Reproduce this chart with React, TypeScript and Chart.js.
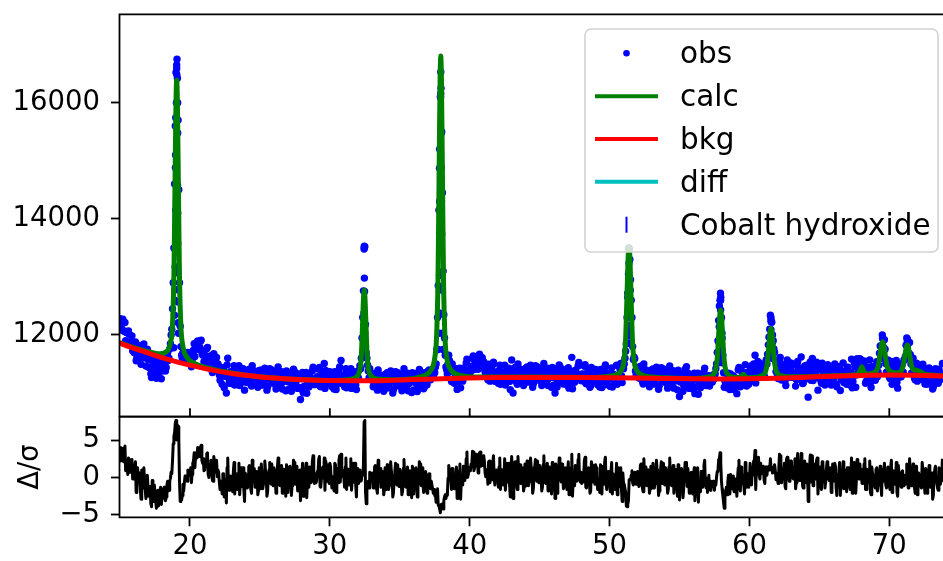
import React, { useEffect, useRef } from "react";
import { Chart, registerables } from "chart.js";
Chart.register(...registerables);

const FONT_FAMILY = "DejaVu Sans";
const FS = 27.5;
const LEGEND_FS = 29.5;

// x grids of the observed pattern (2-theta, degrees): two interleaved rows
const X_START = 15.0;
const X_START_B = 15.05;
const X_STEP = 0.1;
const X_MIN = 14.96;
const X_MAX = 73.84;
const Y_MIN = 10593;
const Y_MAX = 17522;
const D_MIN = -5.31;
const D_MAX = 8.11;

const xTicks = [20, 30, 40, 50, 60, 70];
const yTicks = [12000, 14000, 16000];
const dTicks = [-5, 0, 5];
const legendLabels = ["obs", "calc", "bkg", "diff", "Cobalt hydroxide"];

// observed counts at x = 15.0, 15.1, ... (one row per degree)
const obsCounts = [
  12280, 12090, 12270, 12070, 11900, 12040, 12070, 11850, 11890, 11730,
  11700, 11881, 11612, 11743, 11784, 11495, 11706, 11847, 11608, 11650,
  11580, 11441, 11332, 11663, 11364, 11485, 11256, 11507, 11408, 11540,
  11380, 11520, 11470, 11440, 11690, 11600, 11850, 12100, 12900, 14600,
  16520, 16420, 14500, 12150, 11650, 11700, 11640, 11620, 11560, 11660,
  11576, 11453, 11716, 11848, 11792, 11753, 11867, 11788, 11911, 11656,
  11540, 11647, 11764, 11461, 11538, 11645, 11352, 11679, 11456, 11613,
  11500, 11310, 11330, 11150, 11400, 11290, 11000, 11600, 11170, 11370,
  11270, 11380, 11140, 11350, 11190, 11470, 11250, 11220, 11420, 11050,
  11330, 11180, 11400, 11250, 11120, 11310, 11380, 11200, 11280, 11150,
  11210, 11400, 11140, 11280, 11330, 11050, 11270, 11420, 11190, 11240,
  11340, 11210, 11110, 11450, 11160, 11290, 11070, 11330, 11240, 11380,
  11060, 11290, 11240, 11130, 11410, 11170, 11340, 11080, 11280, 10890,
  11245, 11005, 11295, 11355, 11175, 11105, 11275, 11205, 11445, 11145,
  11160, 11280, 11410, 11120, 11210, 11330, 11510, 11390, 11180, 11350,
  11370, 11190, 11230, 11070, 11350, 11280, 11160, 11450, 11560, 11300,
  11220, 11330, 11090, 11300, 11140, 11420, 11200, 11170, 11370, 11060,
  11280, 11400, 11420, 11950, 12760, 13520, 11690, 11480, 11260, 11350,
  11260, 11110, 11330, 11180, 11050, 11240, 11310, 11130, 11210, 11080,
  11160, 11350, 11090, 11230, 11280, 11000, 11220, 11370, 11140, 11190,
  11310, 11180, 11080, 11420, 11130, 11260, 11040, 11300, 11210, 11350,
  11055, 11285, 11235, 11125, 11405, 11165, 11335, 11075, 11330, 11300,
  11260, 11400, 11230, 11380, 11280, 11350, 11500, 12300, 14150, 16100,
  15500, 13100, 11950, 11450, 11330, 11650, 11520, 11200, 11390, 11170,
  11290, 11063, 11356, 11429, 11262, 11205, 11389, 11332, 11585, 11298,
  11336, 11462, 11596, 11404, 11516, 11632, 11408, 11670, 11492, 11608,
  11538, 11364, 11388, 11230, 11470, 11397, 11280, 11530, 11204, 11365,
  11280, 11390, 11150, 11360, 11200, 11480, 11260, 11230, 11430, 11060,
  11570, 11000, 11430, 11280, 11150, 11340, 11410, 11230, 11310, 11180,
  11260, 11450, 11190, 11330, 11380, 11100, 11320, 11470, 11240, 11290,
  11400, 11270, 11170, 11510, 11220, 11350, 11130, 11390, 11300, 11440,
  11135, 11000, 11315, 11205, 11485, 11245, 11415, 11155, 11355, 11275,
  11325, 11085, 11375, 11615, 11255, 11185, 11355, 11285, 11525, 11225,
  11210, 11330, 11460, 11170, 11260, 11380, 11100, 11440, 11230, 11400,
  11405, 11225, 11265, 11105, 11385, 11315, 11195, 11485, 11145, 11335,
  11240, 11340, 11105, 11320, 11175, 11480, 11280, 11280, 11510, 11180,
  11420, 11600, 11850, 12650, 13480, 12950, 12300, 11580, 11590, 11310,
  11440, 11260, 11460, 11295, 11155, 11337, 11400, 11215, 11290, 11156,
  11225, 11415, 11155, 11295, 11345, 11065, 11285, 11435, 11205, 11255,
  11355, 11225, 11125, 11465, 11175, 11305, 11085, 11345, 11255, 11395,
  10940, 11290, 11240, 11130, 11410, 11455, 11340, 11080, 11280, 11200,
  11230, 10990, 11280, 11340, 11160, 11090, 11260, 11190, 11430, 11130,
  11150, 11300, 11190, 11250, 11310, 11280, 11420, 11700, 12250, 12600,
  12300, 11650, 11100, 11160, 11090, 11340, 11060, 11285, 11160, 11060,
  11240, 10990, 11400, 11130, 11430, 11280, 11200, 11490, 11120, 11310,
  11230, 11465, 11350, 11500, 11650, 11410, 11545, 11310, 11500, 11400,
  11490, 11270, 11570, 11670, 11960, 12340, 12220, 11900, 11700, 11370,
  11320, 11455, 11615, 11225, 11335, 11490, 11130, 11570, 11285, 11520,
  11515, 11270, 11325, 11120, 11495, 11400, 11240, 11620, 11165, 11420,
  11330, 11480, 10930, 11445, 11220, 11595, 11310, 11265, 11530, 11050,
  11430, 11215, 11515, 11310, 11140, 11395, 11490, 11250, 11365, 11185,
  11245, 11500, 11150, 11340, 11405, 11045, 11330, 11520, 11215, 11290,
  11440, 11265, 11140, 11585, 11200, 11520, 11100, 11590, 11360, 11590,
  11570, 11335, 11545, 11170, 11450, 11255, 11570, 11095, 11400, 11310,
  11220, 11540, 11360, 11685, 11680, 12000, 11775, 11755, 11360, 11570,
  11275, 11520, 11150, 11450, 11255, 11560, 11085, 11400, 11280, 11485,
  11360, 11575, 11825, 11925, 11645, 11665, 11345, 11600, 11260, 11490,
  11205, 11423, 11360, 11232, 11497, 11250, 11415, 11150, 11345, 11262,
  11310, 11070, 11360, 11420, 11240, 11170, 11340, 11270, 11510,
];

// observed counts at x = 15.05, 15.15, ... (one row per degree)
const obsCountsB = [
  12112, 12192, 12067, 12214, 12041, 11868, 12012, 11876, 11985, 11766,
  11806, 11557, 11828, 11699, 11610, 11821, 11632, 11733, 11464, 11756,
  11446, 11587, 11268, 11489, 11600, 11361, 11432, 11293, 11484, 11246,
  11430, 11560, 11380, 11620, 11560, 11760, 12000, 12450, 13500, 15600,
  16650, 15700, 12900, 11800, 11600, 11540, 11700, 11580, 11700, 11640,
  11676, 11560, 11740, 11631, 11811, 11898, 11768, 11891, 11700, 11711,
  11553, 11610, 11787, 11444, 11631, 11518, 11375, 11632, 11529, 11406,
  11465, 11220, 11300, 11435, 11090, 11335, 11485, 11265, 11345, 11300,
  11160, 11470, 11350, 11240, 11280, 11130, 11420, 11330, 11190, 11360,
  11290, 11200, 11410, 11160, 11470, 11250, 11180, 11350, 11100, 11390,
  11140, 11290, 11190, 11430, 11270, 11110, 11340, 11220, 11400, 11170,
  11310, 11070, 11350, 11230, 11150, 11370, 11190, 11300, 11040, 11340,
  11190, 11340, 11030, 11260, 11380, 11150, 11230, 11100, 11300, 11070,
  11355, 11115, 11265, 10995, 11195, 11315, 11155, 11385, 11175, 11245,
  11180, 11250, 11440, 11110, 11310, 11210, 11080, 11350, 11260, 11150,
  11340, 11110, 11210, 11370, 11060, 11310, 11400, 11170, 11280, 11230,
  11110, 11420, 11300, 11190, 11230, 11080, 11370, 11280, 11140, 11360,
  11250, 11470, 11600, 12300, 13480, 12180, 11600, 11380, 11420, 11230,
  11220, 11130, 11340, 11090, 11400, 11180, 11110, 11280, 11030, 11320,
  11090, 11240, 11140, 11380, 11220, 11060, 11290, 11170, 11350, 11120,
  11280, 11040, 11320, 11200, 11120, 11340, 11160, 11270, 11010, 11310,
  11185, 11335, 11025, 11255, 11375, 11145, 11225, 11095, 11355, 11145,
  11380, 11260, 11350, 11300, 11380, 11450, 11750, 12850, 15200, 16250,
  14450, 12350, 11650, 11400, 11500, 11560, 11380, 11500, 11230, 11330,
  11420, 11190, 11350, 11090, 11300, 11430, 11280, 11520, 11320, 11400,
  11367, 11453, 11640, 11416, 11606, 11536, 11427, 11633, 11546, 11438,
  11505, 11286, 11364, 11496, 11205, 11418, 11487, 11268, 11355, 11298,
  11170, 11480, 11360, 11250, 11290, 11140, 11430, 11340, 11200, 11370,
  11320, 11230, 11440, 11190, 11500, 11280, 11210, 11380, 11130, 11420,
  11190, 11340, 11240, 11480, 11320, 11160, 11390, 11270, 11450, 11220,
  11370, 11130, 11410, 11290, 11210, 11430, 11250, 11360, 11100, 11400,
  11265, 11415, 11105, 11335, 11455, 11225, 11305, 11175, 11375, 11145,
  11435, 11195, 11345, 11075, 11275, 11395, 11235, 11465, 11255, 11325,
  11230, 11300, 11490, 11160, 11360, 11260, 11130, 11400, 11310, 11200,
  11375, 11145, 11245, 11405, 11095, 11345, 11435, 11205, 11315, 11265,
  11115, 11432, 11318, 11217, 11277, 11150, 11465, 11405, 11300, 11520,
  11500, 11720, 12300, 13050, 13300, 12600, 11800, 11620, 11380, 11420,
  11385, 11270, 11462, 11200, 11500, 11273, 11197, 11362, 11108, 11394,
  11155, 11305, 11205, 11445, 11285, 11125, 11355, 11235, 11415, 11185,
  11325, 11085, 11365, 11245, 11165, 11385, 11205, 11315, 11055, 11355,
  11190, 11340, 11030, 11260, 11380, 11150, 11230, 11100, 11300, 11070,
  11340, 11100, 11250, 10980, 11180, 11300, 11140, 11370, 11180, 11250,
  11200, 11120, 11240, 11190, 11240, 11330, 11500, 11900, 12500, 12650,
  11950, 11350, 11200, 11230, 11250, 11180, 11330, 11120, 11300, 11200,
  11180, 11250, 11440, 11110, 11370, 11270, 11140, 11350, 11260, 11150,
  11435, 11210, 11315, 11480, 11175, 11430, 11525, 11300, 11420, 11380,
  11300, 11520, 11500, 11830, 12100, 12230, 12000, 11760, 11560, 11430,
  11250, 11560, 11440, 11325, 11365, 11210, 11500, 11410, 11270, 11440,
  11365, 11275, 11485, 11235, 11545, 11325, 11255, 11425, 11175, 11465,
  11245, 11395, 11295, 11535, 11375, 11215, 11445, 11325, 11505, 11275,
  11410, 11170, 11450, 11330, 11250, 11470, 11290, 11400, 11140, 11440,
  11270, 11420, 11110, 11340, 11460, 11230, 11310, 11180, 11380, 11150,
  11445, 11205, 11357, 11090, 11310, 11450, 11310, 11560, 11370, 11450,
  11375, 11400, 11550, 11206, 11401, 11301, 11176, 11452, 11372, 11276,
  11470, 11280, 11480, 11810, 11652, 11935, 11920, 11510, 11490, 11380,
  11252, 11545, 11418, 11303, 11340, 11188, 11482, 11405, 11282, 11510,
  11570, 11630, 11950, 11690, 11870, 11500, 11340, 11480, 11228, 11515,
  11252, 11385, 11270, 11490, 11320, 11155, 11380, 11255, 11432, 11200,
  11350, 11110, 11390, 11270, 11190, 11410, 11230, 11340,
];

// extra observed points measured on the steep peak flanks [2theta, counts]
const peakObs = [
  [18.84, 11780], [18.89, 12340], [18.91, 12600], [18.92, 12780], [18.94, 13170], [18.96, 13460],
  [18.99, 13810], [18.98, 14150], [18.96, 14880], [18.97, 15100], [18.98, 15740], [19.03, 16000],
  [19.05, 16590], [19.06, 16480], [19.07, 16750], [19.12, 16000], [19.12, 15480], [19.11, 14580],
  [19.12, 14100], [19.12, 13580], [19.13, 13070], [19.16, 12780], [19.16, 12570], [19.16, 12210],
  [19.18, 12030],
  [32.39, 11740], [32.42, 12120], [32.44, 12380], [32.46, 13500], [32.47, 12980], [32.48, 12750],
  [32.46, 13530], [32.5, 12030], [32.53, 11740],
  [37.75, 11750], [37.8, 12030], [37.83, 12380], [37.84, 13030], [37.85, 13750], [37.85, 14300],
  [37.84, 14870], [37.9, 12780], [37.91, 13030], [37.92, 13750], [37.92, 14300], [37.92, 14870],
  [37.93, 15480], [37.92, 16100], [37.93, 16160], [37.93, 16530], [37.97, 15480], [37.97, 14880],
  [37.98, 14310], [38.0, 13740], [38.0, 13030], [38.02, 12780], [38.05, 12030], [38.1, 11750],
  [51.3, 12720], [51.3, 12380], [51.29, 12090], [51.38, 13500], [51.39, 13240], [51.39, 12950],
  [51.39, 12720], [51.39, 12480], [51.39, 12170], [51.4, 12030], [51.4, 11860], [51.48, 12770],
  [51.48, 12310], [51.49, 11980],
  [57.93, 12720], [57.94, 12600], [57.94, 12430], [57.94, 12260], [57.94, 12090], [57.94, 11910],
  [57.94, 11710], [57.94, 11540], [57.84, 12140], [57.84, 11860], [57.84, 11600], [58.04, 12030],
  [58.04, 11740], [58.04, 11520],
  [61.54, 12300], [61.54, 12260], [61.54, 12090], [61.54, 11910], [61.54, 11740], [61.45, 11970],
  [61.45, 11690], [61.63, 11860], [61.63, 11600],
  [69.52, 11940], [69.52, 11830], [69.52, 11690], [69.44, 11600], [69.61, 11740],
  [71.29, 11880], [71.29, 11800], [71.29, 11660], [71.38, 11690], [71.2, 11600],
];

// calculated pattern [2theta, counts]
const calcCurve = [
  [14.96, 11867], [16, 11782], [17, 11714], [17.85, 11675], [18.35, 11721], [18.6, 11859],
  [18.75, 12188], [18.85, 13007], [18.9, 13975], [18.95, 15040], [19.0, 16007], [19.05, 16392],
  [19.1, 16000], [19.15, 15026], [19.2, 13955], [19.25, 12980], [19.35, 12147], [19.5, 11797],
  [19.75, 11626], [20.25, 11519], [21, 11449], [22, 11390], [23, 11346], [24, 11308], [25, 11281],
  [26, 11260], [27, 11244], [28, 11232], [29, 11224], [30, 11218], [31.26, 11230], [31.76, 11257],
  [32.01, 11307], [32.16, 11416], [32.26, 11682], [32.31, 11994], [32.36, 12338], [32.41, 12650],
  [32.46, 12775], [32.51, 12650], [32.56, 12338], [32.61, 11994], [32.66, 11682], [32.76, 11416],
  [32.91, 11307], [33.16, 11257], [33.66, 11236], [34.5, 11230], [35.5, 11240], [36.2, 11262],
  [36.73, 11298], [37.23, 11396], [37.48, 11576], [37.63, 11967], [37.73, 12913], [37.78, 14024],
  [37.83, 15246], [37.88, 16358], [37.93, 16802], [37.98, 16358], [38.03, 15246], [38.08, 14024],
  [38.13, 12913], [38.23, 11970], [38.38, 11581], [38.63, 11407], [39.13, 11315], [39.8, 11285],
  [41, 11275], [43, 11276], [45, 11275], [47, 11272], [49, 11270], [49.95, 11288], [50.55, 11325],
  [50.85, 11397], [51.03, 11555], [51.15, 11938], [51.21, 12390], [51.27, 12887], [51.33, 13339],
  [51.39, 13520], [51.45, 13339], [51.51, 12887], [51.57, 12390], [51.63, 11938], [51.75, 11554],
  [51.93, 11395], [52.23, 11321], [52.83, 11283], [54, 11262], [55.5, 11252], [56.5, 11257],
  [57.1, 11277], [57.4, 11315], [57.58, 11398], [57.7, 11600], [57.76, 11837], [57.82, 12098],
  [57.88, 12335], [57.94, 12430], [58.0, 12335], [58.06, 12098], [58.12, 11837], [58.18, 11600],
  [58.3, 11398], [58.48, 11315], [58.78, 11277], [59.2, 11262], [59.4, 11282], [59.56, 11325],
  [59.72, 11282], [59.98, 11262], [60.63, 11277], [60.955, 11306], [61.15, 11367], [61.28, 11514],
  [61.345, 11686], [61.41, 11874], [61.475, 12045], [61.54, 12115], [61.605, 12046], [61.67, 11875],
  [61.735, 11688], [61.8, 11516], [61.93, 11370], [62.125, 11312], [62.45, 11290], [63.1, 11280],
  [64.5, 11285], [66, 11296], [67.3, 11310], [67.6, 11318], [67.8, 11340], [67.92, 11392],
  [68.03, 11455], [68.14, 11395], [68.28, 11342], [68.5, 11330], [68.8, 11346], [69.07, 11382],
  [69.22, 11480], [69.295, 11597], [69.37, 11724], [69.445, 11839], [69.52, 11885], [69.595, 11839],
  [69.67, 11725], [69.745, 11598], [69.82, 11482], [69.97, 11395], [70.195, 11360], [70.615, 11348],
  [70.84, 11379], [70.99, 11467], [71.065, 11571], [71.14, 11684], [71.215, 11788], [71.29, 11828],
  [71.365, 11788], [71.44, 11684], [71.515, 11571], [71.59, 11467], [71.74, 11400], [71.965, 11395],
  [72.2, 11370], [72.45, 11332], [73.0, 11310], [73.84, 11296],
];

// background [2theta, counts]
const bkgCurve = [
  [14.96, 11862], [16, 11770], [17, 11690], [18, 11610], [19, 11540], [20, 11480], [21, 11425],
  [22, 11378], [23, 11338], [24, 11305], [25, 11278], [26, 11258], [27, 11242], [28, 11230],
  [29, 11222], [30, 11216], [32, 11212], [34, 11218], [36, 11232], [38, 11248], [40, 11260],
  [42, 11267], [44, 11270], [46, 11270], [48, 11268], [50, 11264], [52, 11258], [54, 11251],
  [56, 11245], [58, 11242], [60, 11246], [62, 11256], [64, 11272], [66, 11290], [68, 11304],
  [70, 11311], [72, 11308], [73.84, 11295],
];

// normalized difference (obs - calc)/sigma on the obsCounts grid
const diffValues = [
  4.0, 2.3, 3.9, 2.3, 0.9, 2.3, 2.6, 0.7, 1.1, -0.2,
  -0.2, 2.1, -1.4, 0.2, 0.6, -2.9, -0.4, 1.3, -1.7, -1.1,
  -1.3, -2.5, -3.5, -0.4, -3.2, -2.0, -4.1, -1.7, -2.6, -1.3,
  -2.8, -1.6, -2.2, -2.6, -0.5, -1.7, -0.1, 0.5, 4.5, 6.0,
  7.6, 7.0, 5.2, -3.2, -3.0, -0.9, -0.6, -0.3, -0.5, 0.8,
  0.3, -0.7, 1.9, 3.3, 2.8, 2.6, 3.7, 3.0, 4.3, 1.9,
  0.9, 2.0, 3.2, 0.4, 1.2, 2.3, -0.4, 2.8, 0.7, 2.3,
  1.0, -0.7, -0.5, -2.2, 0.5, -0.5, -3.4, 2.6, -1.7, 0.2,
  -0.6, 0.8, -2.2, 0.5, -1.6, 1.9, -0.8, -1.2, 1.3, -3.2,
  0.6, -1.4, 1.4, -0.5, -2.1, 0.3, 1.2, -1.1, 0.0, -1.7,
  -0.6, 1.8, -1.5, 0.3, 0.9, -2.5, 0.2, 2.0, -0.9, -0.2,
  1.3, -0.4, -1.6, 2.6, -1.0, 0.6, -2.1, 1.1, 0.0, 1.7,
  -2.0, 0.9, 0.3, -1.1, 2.3, -0.6, 1.5, -1.8, 0.8, -3.1,
  0.5, -2.5, 1.1, 1.9, -0.4, -1.3, 0.9, 0.0, 2.9, -0.8,
  -0.7, 0.8, 2.4, -1.2, -0.1, 1.4, 2.6, 2.2, -0.5, 1.7,
  1.9, -0.4, 0.1, -1.8, 1.7, 0.8, -0.7, 2.9, 3.1, 1.0,
  0.0, 1.4, -1.6, 1.1, -1.0, 2.5, -0.2, -0.6, 1.9, -2.6,
  -0.2, 1.0, -0.5, 0.5, 1.6, 7.6, -3.5, -0.7, -1.4, 0.3,
  0.6, -1.4, 1.4, -0.5, -2.1, 0.3, 1.2, -1.1, 0.0, -1.7,
  -0.7, 1.7, -1.6, 0.2, 0.8, -2.6, 0.1, 1.9, -1.0, -0.3,
  1.1, -0.6, -1.8, 2.4, -1.2, 0.4, -2.3, 0.9, -0.2, 1.5,
  -2.2, 0.7, 0.1, -1.3, 2.1, -0.8, 1.3, -2.0, 0.6, -0.5,
  -0.7, 0.5, -1.5, -0.5, -2.1, -2.4, -3.3, -1.5, -3.8, -4.7,
  -3.6, -4.2, -2.6, -2.8, -2.4, 1.6, 0.9, -1.6, 0.3, -1.5,
  0.1, -2.8, 0.9, 1.8, -0.3, -1.0, 1.2, 0.5, 3.4, 0.4,
  0.9, 1.8, 3.5, 0.9, 1.9, 3.0, 0.6, 3.3, 1.5, 2.8,
  2.9, 0.6, 1.0, -0.9, 2.2, 1.3, -0.3, 2.9, -1.0, 1.0,
  0.0, 1.4, -1.6, 1.1, -1.0, 2.5, -0.2, -0.6, 1.9, -2.6,
  2.8, -2.8, 1.9, 0.0, -1.6, 0.8, 1.7, -0.6, 0.5, -1.2,
  -0.2, 2.2, -1.1, 0.7, 1.3, -2.1, 0.6, 2.4, -0.5, 0.2,
  1.6, -0.1, -1.3, 2.9, -0.7, 0.9, -1.8, 1.4, 0.3, 2.0,
  -1.7, -2.8, 0.6, -0.8, 2.6, -0.3, 1.8, -1.5, 1.1, 0.0,
  0.7, -2.3, 1.3, 3.1, -0.2, -1.1, 1.1, 0.2, 3.1, -0.6,
  -0.8, 0.7, 2.3, -1.3, -0.2, 1.3, -2.1, 2.1, -0.6, 1.6,
  1.7, -0.6, -0.1, -2.0, 1.5, 0.6, -0.9, 2.7, -1.6, 0.8,
  -0.6, 0.8, -2.2, 0.5, -1.6, 1.9, -0.8, -1.2, 1.3, -3.2,
  -0.8, -0.9, -3.8, -3.6, -0.3, -0.3, 0.9, -1.0, 0.7, -0.9,
  0.8, -1.2, 1.6, -0.3, -1.9, 0.5, 1.4, -0.9, 0.2, -1.5,
  -0.5, 1.9, -1.4, 0.4, 1.0, -2.4, 0.3, 2.1, -0.8, -0.1,
  1.3, -0.4, -1.6, 2.6, -1.0, 0.6, -2.1, 1.1, 0.0, 1.7,
  -3.0, 0.6, 0.0, -1.4, 2.0, 2.0, 1.2, -2.1, 0.5, -0.6,
  -0.1, -3.1, 0.5, 1.3, -1.0, -1.9, 0.3, -0.6, 2.3, -1.4,
  -2.0, 0.3, -1.7, -1.0, -0.5, -1.7, -1.0, 0.8, 2.4, 3.3,
  -0.5, -2.4, -4.1, -2.2, -2.3, 0.3, -2.2, 0.0, -1.1, -1.9,
  -0.2, -2.5, 1.3, -1.3, 1.4, -0.4, -1.1, 2.0, -1.3, 0.5,
  -0.3, 1.9, 0.8, 2.2, 3.6, 1.3, 2.5, 0.3, 1.9, 0.9,
  1.5, -0.8, 1.4, 1.2, 1.5, 2.5, 1.4, 0.9, 1.7, -0.3,
  -0.2, 1.3, 2.9, -0.7, 0.4, 1.9, -1.5, 2.7, 0.0, 2.2,
  2.2, -0.1, 0.4, -1.5, 2.0, 1.1, -0.4, 3.2, -1.1, 1.3,
  0.4, 1.8, -3.2, 1.5, -0.6, 2.9, 0.2, -0.2, 2.3, -2.2,
  1.3, -0.7, 2.1, 0.2, -1.4, 1.0, 1.9, -0.4, 0.7, -1.0,
  -0.5, 1.9, -1.4, 0.4, 1.0, -2.4, 0.3, 2.1, -0.8, -0.1,
  1.3, -0.4, -1.6, 2.6, -1.0, 2.0, -2.1, 2.4, 0.0, 1.8,
  1.1, -0.7, 1.8, -1.6, 1.1, -0.7, 2.2, -2.3, 0.5, -0.5,
  -1.4, 1.3, -0.9, 0.7, -0.9, 1.1, -0.5, 0.7, -1.4, 1.4,
  -1.1, 1.4, -2.0, 0.9, -0.9, 2.0, -2.5, 0.4, -0.9, 0.7,
  -1.1, -0.5, 0.4, 0.9, -0.9, 0.7, -1.1, 1.8, -1.3, 0.9,
  -2.3, 0.6, 0.0, -1.4, 2.0, -0.9, 1.2, -2.1, 0.5, -0.6,
  0.1, -2.9, 0.7, 1.5, -0.8, -1.7, 0.5, -0.4, 2.5,
];

// normalized difference on the obsCountsB grid
const diffValuesB = [
  2.2, 3.4, 2.1, 4.2, 2.3, 0.4, 2.4, 0.9, 2.4, -0.2,
  1.2, -2.0, 1.3, -0.4, -1.6, 1.0, -1.4, -0.1, -2.8, 0.3,
  -2.5, -1.2, -3.9, -2.1, -1.0, -3.2, -2.5, -3.8, -1.9, -3.6,
  -2.5, -1.3, -3.1, -1.0, -1.8, -0.5, 0.7, 2.2, 5.5, 7.3,
  5.0, 6.8, -0.6, -2.9, -2.4, -1.8, 0.2, -0.4, 1.0, 0.7,
  1.3, 0.4, 2.2, 1.3, 3.1, 4.0, 2.8, 4.1, 2.3, 2.5,
  1.0, 1.6, 3.3, 0.0, 1.8, 0.8, -0.5, 2.1, 1.3, 0.1,
  0.7, -1.6, -0.8, 0.5, -2.6, -0.3, 1.3, -0.8, -0.1, -0.5,
  -1.9, 2.0, 0.5, -0.9, -0.4, -2.3, 1.3, 0.2, -1.6, 0.6,
  0.1, -1.1, 1.6, -1.6, 2.3, -0.5, -1.3, 0.8, -2.3, 1.3,
  -1.5, 0.4, -0.9, 2.2, 0.2, -1.9, 1.0, -0.5, 1.8, -1.1,
  0.9, -2.1, 1.4, -0.1, -1.1, 1.6, -0.6, 0.8, -2.5, 1.3,
  -0.4, 1.5, -2.4, 0.5, 2.0, -0.9, 0.1, -1.5, 1.0, -1.9,
  1.9, -1.2, 0.7, -2.7, -0.2, 1.4, -0.7, 2.2, -0.4, 0.5,
  -0.5, 0.4, 2.8, -1.3, 1.2, -0.1, -1.7, 1.7, 0.6, -0.8,
  1.5, -1.4, -0.1, 1.9, -2.0, 1.2, 2.3, -0.6, 0.8, 0.1,
  -1.3, 2.6, 1.1, -0.3, 0.2, -1.7, 1.9, 0.8, -1.0, 1.2,
  -0.8, 0.6, -0.4, 0.3, 7.4, -1.9, -1.3, -0.5, 0.7, -0.6,
  0.1, -1.1, 1.6, -1.6, 2.3, -0.5, -1.3, 0.8, -2.3, 1.3,
  -1.6, 0.3, -1.0, 2.1, 0.1, -2.0, 0.9, -0.6, 1.7, -1.2,
  0.7, -2.3, 1.2, -0.3, -1.3, 1.4, -0.8, 0.6, -2.7, 1.1,
  -0.6, 1.3, -2.6, 0.3, 1.8, -1.1, -0.1, -1.7, 0.8, -2.1,
  0.3, -1.0, -0.5, -1.5, -1.6, -2.4, -2.8, -3.7, -4.2, -3.6,
  -3.5, -3.0, -2.3, -2.2, -0.1, 1.0, -0.2, 1.2, -1.0, 0.0,
  1.4, -1.6, 0.4, -2.9, -0.3, 1.5, -0.4, 2.5, 0.0, 1.3,
  0.9, 1.7, 3.4, 1.3, 3.1, 2.5, 1.4, 3.4, 2.6, 1.6,
  2.2, 0.1, 0.8, 2.1, -0.7, 1.3, 2.0, -0.1, 0.8, 0.2,
  -1.3, 2.6, 1.1, -0.3, 0.2, -1.7, 1.9, 0.8, -1.0, 1.2,
  0.6, -0.6, 2.1, -1.1, 2.8, 0.0, -0.8, 1.3, -1.8, 1.8,
  -1.1, 0.8, -0.5, 2.6, 0.6, -1.5, 1.4, -0.1, 2.2, -0.7,
  1.2, -1.8, 1.7, 0.2, -0.8, 1.9, -0.3, 1.1, -2.2, 1.6,
  -0.1, 1.8, -2.1, 0.8, 2.3, -0.6, 0.4, -1.2, 1.3, -1.6,
  2.1, -1.0, 0.9, -2.5, 0.0, 1.6, -0.5, 2.4, -0.2, 0.7,
  -0.6, 0.3, 2.7, -1.4, 1.1, -0.2, -1.8, 1.6, 0.5, -0.9,
  1.3, -1.6, -0.3, 1.7, -2.2, 1.0, 2.1, -0.8, 0.6, -0.1,
  -1.9, 2.0, 0.5, -0.9, -0.4, -2.3, 1.3, 0.2, -1.6, 0.6,
  -0.9, -2.0, -3.9, -3.1, -0.3, 0.3, -0.7, 0.6, -0.6, 0.3,
  0.3, -0.9, 1.8, -1.4, 2.5, -0.3, -1.1, 1.0, -2.1, 1.5,
  -1.4, 0.5, -0.8, 2.3, 0.3, -1.8, 1.1, -0.4, 1.9, -1.0,
  0.9, -2.1, 1.4, -0.1, -1.1, 1.6, -0.6, 0.8, -2.5, 1.3,
  -0.7, 1.2, -2.7, 0.2, 1.7, -1.2, -0.2, -1.8, 0.7, -2.2,
  1.3, -1.8, 0.1, -3.3, -0.8, 0.8, -1.3, 1.6, -1.0, -0.1,
  -0.7, -1.6, -0.5, -1.2, -0.9, -0.5, 0.1, 0.9, 2.5, 2.0,
  -1.6, -3.3, -2.5, -1.3, -0.7, -1.1, 0.4, -1.5, 0.2, -0.6,
  -1.0, -0.1, 2.3, -1.8, 0.7, -0.6, -2.2, 1.2, 0.1, -1.3,
  1.9, -1.0, 0.3, 2.3, -1.6, 1.6, 2.7, -0.2, 1.2, 0.5,
  -0.4, 1.4, 0.3, 1.2, 1.0, 1.1, 0.6, 1.0, 0.9, 0.6,
  -0.8, 3.1, 1.6, 0.2, 0.7, -1.2, 2.4, 1.3, -0.5, 1.7,
  1.0, -0.2, 2.5, -0.7, 3.2, 0.4, -0.4, 1.7, -1.4, 2.2,
  -0.7, 1.2, -0.1, 3.0, 1.0, -1.1, 1.8, 0.3, 2.6, -0.3,
  1.4, -1.6, 1.9, 0.4, -0.6, 2.1, -0.1, 1.3, -2.0, 1.8,
  -0.4, 1.5, -2.4, 0.5, 2.0, -0.9, 0.1, -1.5, 1.0, -1.9,
  1.3, -1.0, 0.4, -2.1, 0.0, 1.2, -0.2, 2.0, -0.2, 0.1,
  -0.8, 0.1, 2.5, -1.6, 0.9, -0.4, -2.0, 1.4, 0.3, -1.1,
  1.1, -1.8, -0.5, 1.5, -2.4, 0.8, 1.9, -1.0, 0.4, -0.3,
  -1.6, 2.3, 0.8, -0.6, -0.1, -2.0, 1.6, 0.5, -1.3, 0.9,
  0.3, -0.9, 1.8, -1.4, 2.5, -0.3, -1.1, 1.0, -2.1, 1.5,
  -1.7, 0.2, -1.1, 2.0, 0.0, -2.1, 0.8, -0.7, 1.6, -1.3,
  0.6, -2.4, 1.1, -0.4, -1.4, 1.3, -0.9, 0.5,
];

const COLORS = {
  obs: "#0000ff",
  calc: "#008000",
  bkg: "#ff0000",
  diff: "#00bfbf",
  refl: "#0000ff",
  axis: "#000000",
};

const tickFont = { family: FONT_FAMILY, size: FS };
const fmtNum = (v: number) => (v < 0 ? "\u2212" + Math.abs(v) : String(v));

const mainFramePlugin = {
  id: "mainFrame",
  afterDraw(chart: any) {
    const { ctx, chartArea } = chart;
    const { left, top, right, bottom } = chartArea;
    const xs = chart.scales.x;
    ctx.save();
    ctx.strokeStyle = COLORS.axis;
    ctx.lineWidth = 1.8;
    ctx.beginPath();
    ctx.moveTo(left, bottom);
    ctx.lineTo(left, top);
    ctx.lineTo(right + 2, top);
    ctx.moveTo(left, bottom);
    ctx.lineTo(right + 2, bottom);
    xTicks.forEach((v) => {
      const px = xs.getPixelForValue(v);
      ctx.moveTo(px, bottom);
      ctx.lineTo(px, bottom - 8.5);
    });
    ctx.stroke();

    // legend box
    const bx = right - 358;
    const by = top + 14.7;
    const bw = 353;
    const bh = 223;
    ctx.beginPath();
    ctx.roundRect(bx, by, bw, bh, 6);
    ctx.fillStyle = "rgba(255,255,255,0.8)";
    ctx.fill();
    ctx.lineWidth = 1.6;
    ctx.strokeStyle = "#d2d2d2";
    ctx.stroke();

    const rowY = (i: number) => by + 24.3 + i * 42.85;
    const hx0 = bx + 10;
    const hx1 = bx + 73;
    const hc = (hx0 + hx1) / 2;
    ctx.fillStyle = COLORS.obs;
    ctx.beginPath();
    ctx.arc(hc, rowY(0), 3.3, 0, Math.PI * 2);
    ctx.fill();
    const lines = [COLORS.calc, COLORS.bkg, COLORS.diff];
    lines.forEach((c, k) => {
      ctx.strokeStyle = c;
      ctx.lineWidth = 4;
      ctx.beginPath();
      ctx.moveTo(hx0, rowY(k + 1));
      ctx.lineTo(hx1, rowY(k + 1));
      ctx.stroke();
    });
    ctx.strokeStyle = COLORS.refl;
    ctx.lineWidth = 2;
    ctx.beginPath();
    ctx.moveTo(hc, rowY(4) - 8);
    ctx.lineTo(hc, rowY(4) + 8);
    ctx.stroke();

    ctx.fillStyle = "#000";
    ctx.font = `${LEGEND_FS}px "${FONT_FAMILY}"`;
    ctx.textBaseline = "alphabetic";
    ctx.textAlign = "left";
    legendLabels.forEach((t, i) => ctx.fillText(t, bx + 95, rowY(i) + 10));
    ctx.restore();
  },
};

const diffFramePlugin = {
  id: "diffFrame",
  afterDraw(chart: any) {
    const { ctx, chartArea } = chart;
    const { left, top, right, bottom } = chartArea;
    ctx.save();
    ctx.strokeStyle = COLORS.axis;
    ctx.lineWidth = 1.8;
    ctx.beginPath();
    ctx.moveTo(right + 2, top);
    ctx.lineTo(left, top);
    ctx.lineTo(left, bottom);
    ctx.lineTo(right + 2, bottom);
    ctx.stroke();
    ctx.restore();
  },
};

export default function App() {
  const mainRef = useRef<HTMLCanvasElement>(null);
  const diffRef = useRef<HTMLCanvasElement>(null);

  useEffect(() => {
    const obsPts = obsCounts
      .map((y, i) => ({ x: X_START + i * X_STEP, y }))
      .concat(obsCountsB.map((y, i) => ({ x: X_START_B + i * X_STEP, y })))
      .concat(peakObs.map(([x, y]) => ({ x, y })));
    const calcPts = calcCurve.map(([x, y]) => ({ x, y }));
    const bkgPts = bkgCurve.map(([x, y]) => ({ x, y }));
    const diffPts: { x: number; y: number }[] = [];
    diffValues.forEach((y, i) => {
      diffPts.push({ x: X_START + i * X_STEP, y });
      if (i < diffValuesB.length) diffPts.push({ x: X_START_B + i * X_STEP, y: diffValuesB[i] });
    });

    const noPadY = (s: any) => {
      s.width = 119.5;
      s.paddingTop = 0;
      s.paddingBottom = 0;
    };

    const main = new Chart(mainRef.current as HTMLCanvasElement, {
      type: "scatter",
      data: {
        datasets: [
          {
            type: "line",
            label: "bkg",
            data: bkgPts,
            borderColor: COLORS.bkg,
            borderWidth: 5,
            pointRadius: 0,
            cubicInterpolationMode: "monotone",
            borderJoinStyle: "round",
            order: 1,
          } as any,
          {
            type: "line",
            label: "calc",
            data: calcPts,
            borderColor: COLORS.calc,
            borderWidth: 5,
            pointRadius: 0,
            cubicInterpolationMode: "monotone",
            borderJoinStyle: "round",
            order: 2,
          } as any,
          {
            type: "scatter",
            label: "obs",
            data: obsPts,
            backgroundColor: COLORS.obs,
            borderWidth: 0,
            pointRadius: 3.7,
            order: 3,
          } as any,
        ],
      },
      options: {
        animation: false,
        responsive: false,
        maintainAspectRatio: false,
        layout: { autoPadding: false, padding: { top: 14.3, left: 0, right: 0, bottom: 1.3 } },
        plugins: { legend: { display: false }, tooltip: { enabled: false } },
        scales: {
          x: { type: "linear", min: X_MIN, max: X_MAX, display: false },
          y: {
            type: "linear",
            min: Y_MIN,
            max: Y_MAX,
            afterFit: noPadY,
            afterBuildTicks: (s: any) => {
              s.ticks = yTicks.map((v) => ({ value: v }));
            },
            grid: {
              drawOnChartArea: false,
              drawTicks: true,
              tickLength: 8.5,
              tickWidth: 1.8,
              tickColor: COLORS.axis,
            },
            border: { display: false },
            ticks: {
              font: tickFont,
              color: "#000",
              padding: 11,
              autoSkip: false,
              callback: (v: any) => fmtNum(Number(v)),
            },
          },
        },
      } as any,
      plugins: [mainFramePlugin],
    });

    const diff = new Chart(diffRef.current as HTMLCanvasElement, {
      type: "line",
      data: {
        datasets: [
          {
            label: "diff",
            data: diffPts,
            borderColor: "#000000",
            borderWidth: 3,
            pointRadius: 0,
            borderJoinStyle: "round",
          } as any,
        ],
      },
      options: {
        animation: false,
        responsive: false,
        maintainAspectRatio: false,
        layout: { autoPadding: false, padding: { top: 16.7, left: 0, right: 0, bottom: 0 } },
        plugins: { legend: { display: false }, tooltip: { enabled: false } },
        scales: {
          x: {
            type: "linear",
            min: X_MIN,
            max: X_MAX,
            afterFit: (s: any) => {
              s.height = 43.7;
              s.paddingLeft = 0;
              s.paddingRight = 0;
            },
            afterBuildTicks: (s: any) => {
              s.ticks = xTicks.map((v) => ({ value: v }));
            },
            grid: {
              drawOnChartArea: false,
              drawTicks: true,
              tickLength: 9,
              tickWidth: 1.8,
              tickColor: COLORS.axis,
            },
            border: { display: false },
            ticks: {
              font: tickFont,
              color: "#000",
              padding: 4,
              maxRotation: 0,
              autoSkip: false,
              callback: (v: any) => fmtNum(Number(v)),
            },
          },
          y: {
            type: "linear",
            min: D_MIN,
            max: D_MAX,
            afterFit: noPadY,
            afterBuildTicks: (s: any) => {
              s.ticks = dTicks.map((v) => ({ value: v }));
            },
            grid: {
              drawOnChartArea: false,
              drawTicks: true,
              tickLength: 8.5,
              tickWidth: 1.8,
              tickColor: COLORS.axis,
            },
            border: { display: false },
            ticks: {
              font: tickFont,
              color: "#000",
              padding: 11,
              autoSkip: false,
              callback: (v: any) => fmtNum(Number(v)),
            },
            title: {
              display: true,
              text: "\u0394/\u03c3",
              font: tickFont,
              color: "#000",
              padding: { top: 14.5, bottom: 0 },
            },
          },
        },
      } as any,
      plugins: [diffFramePlugin],
    });

    return () => {
      main.destroy();
      diff.destroy();
    };
  }, []);

  return (
    <div
      style={{
        position: "absolute",
        left: 0,
        top: 0,
        width: 943,
        height: 561,
        background: "#ffffff",
        overflow: "hidden",
      }}
    >
      <canvas
        ref={mainRef}
        width={943}
        height={418}
        style={{ position: "absolute", left: 0, top: 0, width: 943, height: 418 }}
      />
      <canvas
        ref={diffRef}
        width={943}
        height={161}
        style={{ position: "absolute", left: 0, top: 400, width: 943, height: 161 }}
      />
    </div>
  );
}
